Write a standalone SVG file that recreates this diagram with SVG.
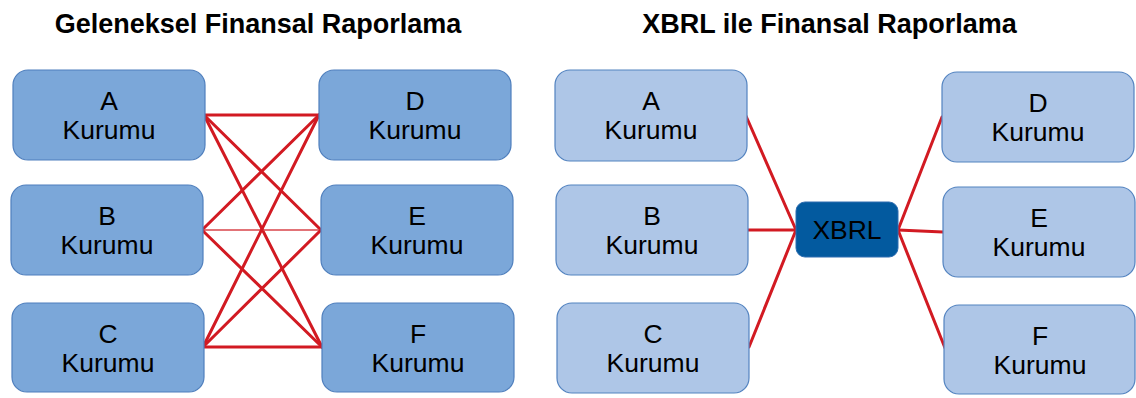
<svg xmlns="http://www.w3.org/2000/svg" width="1136" height="398" viewBox="0 0 1136 398">
<style>
.title{font-family:"Liberation Sans",Arial,sans-serif;font-weight:bold;font-size:27px;fill:#000;text-anchor:middle}
.lbl{font-family:"Liberation Sans",Arial,sans-serif;font-size:26.5px;fill:#000;text-anchor:middle}
.dark{fill:#7BA7D9;stroke:#4F7FBD;stroke-width:1.2}
.light{fill:#AEC6E7;stroke:#5383C0;stroke-width:1.2}
.xb{fill:#035A9F;stroke:#2E6DB0;stroke-width:1}
.ln{stroke:#D21A22;stroke-width:3;fill:none;stroke-linecap:round}
.thin{stroke:#D8444A;stroke-width:1.5;fill:none}
</style>
<rect width="1136" height="398" fill="#fff"/>
<text class="title" x="258" y="33">Geleneksel Finansal Raporlama</text>
<text class="title" x="829.5" y="33">XBRL ile Finansal Raporlama</text>
<g id="connectors">
<line class="ln" x1="204" y1="115" x2="319" y2="115"/>
<line class="ln" x1="204" y1="115" x2="321" y2="230"/>
<line class="ln" x1="204" y1="115" x2="322" y2="347"/>
<line class="ln" x1="202" y1="230" x2="319" y2="115"/>
<line class="thin" x1="202" y1="230" x2="321" y2="230"/>
<line class="ln" x1="202" y1="230" x2="322" y2="347"/>
<line class="ln" x1="203" y1="347" x2="319" y2="115"/>
<line class="ln" x1="203" y1="347" x2="321" y2="230"/>
<line class="ln" x1="203" y1="347" x2="322" y2="347"/>
<line class="ln" x1="746" y1="116" x2="796" y2="230"/>
<line class="ln" x1="748" y1="230" x2="796" y2="230"/>
<line class="ln" x1="749" y1="347" x2="796" y2="230"/>
<line class="ln" x1="898" y1="230" x2="942" y2="117"/>
<line class="ln" x1="898" y1="230" x2="943" y2="232"/>
<line class="ln" x1="898" y1="230" x2="945" y2="348"/>
</g>
<g id="L-A"><rect class="dark" x="13" y="70" width="192" height="90" rx="15"/><text class="lbl" x="109" y="110">A</text><text class="lbl" x="109" y="139">Kurumu</text></g>
<g id="L-B"><rect class="dark" x="11" y="185" width="192" height="90" rx="15"/><text class="lbl" x="107" y="225">B</text><text class="lbl" x="107" y="254">Kurumu</text></g>
<g id="L-C"><rect class="dark" x="12" y="303" width="192" height="89" rx="15"/><text class="lbl" x="108" y="343">C</text><text class="lbl" x="108" y="372">Kurumu</text></g>
<g id="L-D"><rect class="dark" x="319" y="70" width="192" height="90" rx="15"/><text class="lbl" x="415" y="110">D</text><text class="lbl" x="415" y="139">Kurumu</text></g>
<g id="L-E"><rect class="dark" x="321" y="185" width="192" height="90" rx="15"/><text class="lbl" x="417" y="225">E</text><text class="lbl" x="417" y="254">Kurumu</text></g>
<g id="L-F"><rect class="dark" x="322" y="303" width="192" height="89" rx="15"/><text class="lbl" x="418" y="343">F</text><text class="lbl" x="418" y="372">Kurumu</text></g>
<g id="R-A"><rect class="light" x="555" y="70" width="192" height="91" rx="15"/><text class="lbl" x="651" y="110">A</text><text class="lbl" x="651" y="139">Kurumu</text></g>
<g id="R-B"><rect class="light" x="556" y="185" width="192" height="90" rx="15"/><text class="lbl" x="652" y="225">B</text><text class="lbl" x="652" y="254">Kurumu</text></g>
<g id="R-C"><rect class="light" x="557" y="303" width="192" height="90" rx="15"/><text class="lbl" x="653" y="343">C</text><text class="lbl" x="653" y="372">Kurumu</text></g>
<g id="XBRL"><rect class="xb" x="796" y="202" width="102" height="55" rx="9"/><text class="lbl" x="847" y="239">XBRL</text></g>
<g id="R-D"><rect class="light" x="942" y="72" width="192" height="90" rx="15"/><text class="lbl" x="1038" y="112">D</text><text class="lbl" x="1038" y="141">Kurumu</text></g>
<g id="R-E"><rect class="light" x="943" y="187" width="192" height="90" rx="15"/><text class="lbl" x="1039" y="227">E</text><text class="lbl" x="1039" y="256">Kurumu</text></g>
<g id="R-F"><rect class="light" x="944" y="305" width="191" height="89" rx="15"/><text class="lbl" x="1040" y="345">F</text><text class="lbl" x="1040" y="374">Kurumu</text></g>
</svg>
